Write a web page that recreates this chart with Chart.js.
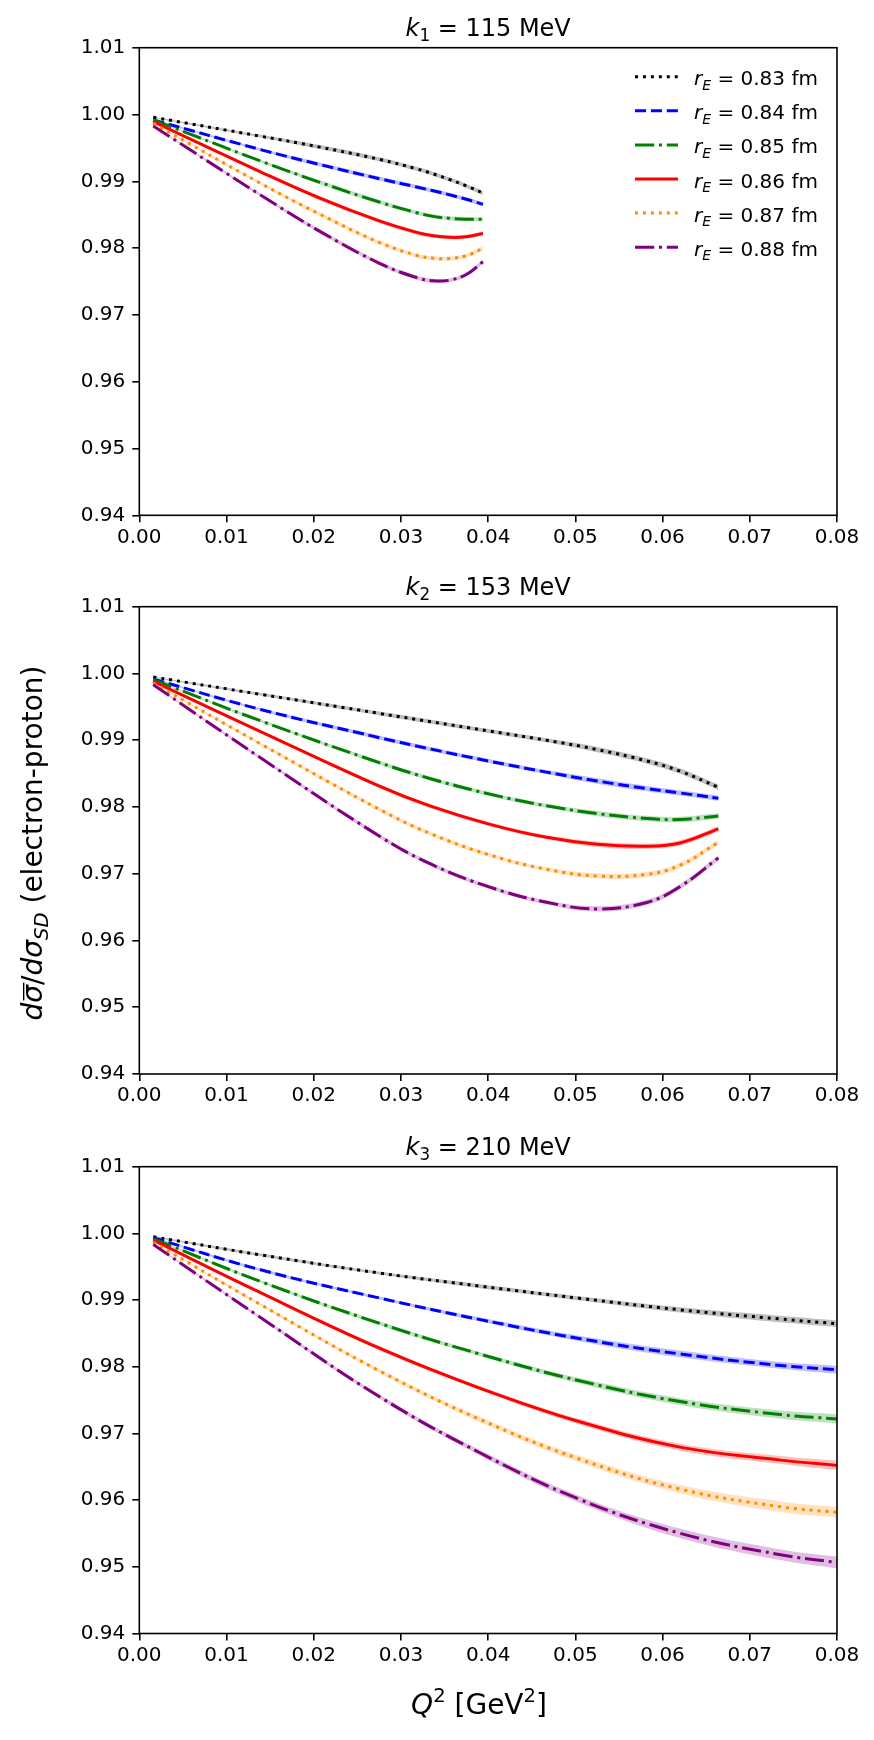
<!DOCTYPE html>
<html>
<head>
<meta charset="utf-8">
<script src="https://cdn.jsdelivr.net/npm/chart.js@4.4.1/dist/chart.umd.min.js"></script>
<style>
  body { margin: 0; background: #fff; }
  #wrap { position: relative; width: 874px; height: 1740px; }
  canvas { position: absolute; left: 0; }
</style>
</head>
<body>
<div id="wrap">
  <canvas id="c1" width="874" height="560" style="top:0"></canvas>
  <canvas id="c2" width="874" height="560" style="top:560px"></canvas>
  <canvas id="c3" width="874" height="620" style="top:1120px"></canvas>
</div>
<script>
"use strict";

// radii and tick labels
const radii = ["0.83", "0.84", "0.85", "0.86", "0.87", "0.88"];
const xTicks = [0, 0.01, 0.02, 0.03, 0.04, 0.05, 0.06, 0.07, 0.08];
const yTicks = [0.94, 0.95, 0.96, 0.97, 0.98, 0.99, 1.00, 1.01];

// k1 = 115 MeV
const k1Q = [0.0016, 0.0139, 0.0207, 0.0276, 0.0318, 0.0337, 0.0356, 0.0375, 0.0394];
const k1r083 = [0.99958, 0.99675, 0.99512, 0.99326, 0.99187, 0.99111, 0.99026, 0.98931, 0.98826];
const k1r084 = [0.99918, 0.99475, 0.99251, 0.99037, 0.98915, 0.98858, 0.98797, 0.98731, 0.98655];
const k1r085 = [0.99920, 0.99304, 0.98985, 0.98686, 0.98530, 0.98475, 0.98445, 0.98432, 0.98431];
const k1r086 = [0.99892, 0.99142, 0.98748, 0.98403, 0.98235, 0.98184, 0.98161, 0.98171, 0.98218];
const k1r087 = [0.99868, 0.98970, 0.98508, 0.98080, 0.97891, 0.97849, 0.97845, 0.97887, 0.97993];
const k1r088 = [0.99828, 0.98795, 0.98251, 0.97768, 0.97558, 0.97510, 0.97520, 0.97605, 0.97795];
const k1Band = [0.0001, 0.0002, 0.0003, 0.0003, 0.0003, 0.0003, 0.0003, 0.0003, 0.0003];

// k2 = 153 MeV
const k2Q = [0.0016, 0.0139, 0.0276, 0.0334, 0.0402, 0.0467, 0.0525, 0.0582, 0.0620, 0.0664];
const k2r083 = [0.99946, 0.99688, 0.99400, 0.99278, 0.99135, 0.98999, 0.98860, 0.98689, 0.98537, 0.98295];
const k2r084 = [0.99916, 0.99461, 0.99036, 0.98868, 0.98684, 0.98522, 0.98389, 0.98275, 0.98210, 0.98130];
const k2r085 = [0.99906, 0.99291, 0.98661, 0.98423, 0.98192, 0.98017, 0.97901, 0.97827, 0.97812, 0.97865];
const k2r086 = [0.99880, 0.99130, 0.98308, 0.98012, 0.97740, 0.97545, 0.97441, 0.97412, 0.97461, 0.97672];
const k2r087 = [0.99856, 0.98946, 0.97960, 0.97600, 0.97280, 0.97066, 0.96967, 0.96990, 0.97127, 0.97470];
const k2r088 = [0.99831, 0.98736, 0.97558, 0.97146, 0.96799, 0.96572, 0.96473, 0.96570, 0.96806, 0.97237];
const k2Band = [0.0001, 0.0002, 0.0003, 0.0003, 0.0003, 0.0003, 0.0004, 0.0004, 0.0004, 0.0004];

// k3 = 210 MeV
const k3Q = [0.0016, 0.0139, 0.0276, 0.0391, 0.0506, 0.0620, 0.0735, 0.0800];
const k3r083 = [0.99949, 0.99678, 0.99404, 0.99209, 0.99025, 0.98854, 0.98716, 0.98645];
const k3r084 = [0.99934, 0.99454, 0.99029, 0.98707, 0.98420, 0.98192, 0.98020, 0.97955];
const k3r085 = [0.99919, 0.99279, 0.98649, 0.98189, 0.97786, 0.97478, 0.97283, 0.97218];
const k3r086 = [0.99898, 0.99111, 0.98275, 0.97677, 0.97171, 0.96795, 0.96600, 0.96520];
const k3r087 = [0.99868, 0.98933, 0.97933, 0.97208, 0.96610, 0.96165, 0.95901, 0.95817];
const k3r088 = [0.99833, 0.98738, 0.97546, 0.96707, 0.96005, 0.95503, 0.95181, 0.95064];
const k3Band = [
    [0.0001, 0.0002, 0.0002, 0.0003, 0.0003, 0.0004, 0.0005, 0.0005],
    [0.0001, 0.0002, 0.0002, 0.0003, 0.0004, 0.0005, 0.0005, 0.0006],
    [0.0001, 0.0002, 0.0003, 0.0003, 0.0004, 0.0005, 0.0006, 0.0007],
    [0.0001, 0.0002, 0.0003, 0.0003, 0.0004, 0.0005, 0.0006, 0.0007],
    [0.0001, 0.0002, 0.0003, 0.0004, 0.0005, 0.0006, 0.0008, 0.0008],
    [0.0001, 0.0002, 0.0003, 0.0004, 0.0005, 0.0007, 0.0008, 0.0009]
];

const FONT = "'DejaVu Sans', sans-serif";
const colours = ["#000000", "#0000ff", "#008000", "#ff0000", "#ff8c00", "#800080"];
const bandColours = ["rgba(0,0,0,0.25)", "rgba(0,0,255,0.25)", "rgba(0,128,0,0.25)",
                     "rgba(255,0,0,0.25)", "rgba(255,140,0,0.25)", "rgba(128,0,128,0.25)"];
const LW = 3;
const dotted = [1 * LW, 1.65 * LW];
const dashed = [3.7 * LW, 1.6 * LW];
const dashDot = [6.4 * LW, 1.6 * LW, 1 * LW, 1.6 * LW];
const dashes = [dotted, dashed, dashDot, [], dotted, dashDot];

// draws math-like text: runs of [text, kind]
function drawRich(ctx, runs, x, y, size, align) {
    const parts = runs.map(([t, k]) => {
        const small = k.includes("sub") || k.includes("sup");
        const fs = small ? size * 0.7 : size;
        const font = (k.startsWith("i") ? "italic " : "") + fs + "px " + FONT;
        ctx.font = font;
        return { t, k, font, w: ctx.measureText(t).width };
    });
    const total = parts.reduce((s, p) => s + p.w, 0);
    let cx = align === "center" ? x - total / 2 : (align === "right" ? x - total : x);
    ctx.textBaseline = "alphabetic";
    ctx.textAlign = "left";
    for (const p of parts) {
        ctx.font = p.font;
        let dy = 0;
        if (p.k.includes("sub")) dy = size * 0.22;
        if (p.k.includes("sup")) dy = -size * 0.42;
        ctx.fillText(p.t, cx, y + dy);
        if (p.k.includes("bar")) {
            ctx.fillRect(cx + size * 0.08, y - size * 0.68, p.w, size * 0.05);
        }
        cx += p.w;
    }
}

function panelPlugin(titleRuns, extra) {
    return {
        id: "panelDecor",
        afterDatasetsDraw(chart) {
            const { ctx, chartArea: a } = chart;
            ctx.save();
            ctx.strokeStyle = "#000";
            ctx.lineWidth = 1.6;
            ctx.strokeRect(a.left, a.top, a.right - a.left, a.bottom - a.top);
            ctx.fillStyle = "#000";
            drawRich(ctx, titleRuns, (a.left + a.right) / 2, a.top - 12, 24, "center");
            if (extra) extra(chart, ctx);
            ctx.restore();
        }
    };
}

// legend (first panel only)
function drawLegend(chart, ctx) {
    const lines = chart.data.datasets.filter(d => d.isLine);
    lines.forEach((d, i) => {
        const y = 76.7 + 34.1 * i;
        ctx.save();
        ctx.strokeStyle = d.borderColor;
        ctx.lineWidth = LW;
        ctx.setLineDash(d.borderDash);
        ctx.beginPath();
        ctx.moveTo(635, y);
        ctx.lineTo(678, y);
        ctx.stroke();
        ctx.restore();
        ctx.fillStyle = "#000";
        drawRich(ctx, [["r", "i"], ["E", "isub"], [" = " + d.radius + " fm", "n"]], 694, y + 8.5, 20, "left");
    });
}

function drawYLabel(chart, ctx) {
    ctx.save();
    ctx.translate(42, 843 - 560);
    ctx.rotate(-Math.PI / 2);
    drawRich(ctx, [["d", "i"], ["σ", "ibar"], ["/", "n"], ["dσ", "i"], ["SD", "isub"], [" (electron-proton)", "n"]], 0, 0, 28, "center");
    ctx.restore();
}

function drawXLabel(chart, ctx) {
    drawRich(ctx, [["Q", "i"], ["2", "sup"], [" [GeV", "n"], ["2", "sup"], ["]", "n"]], 479, 1714 - 1120, 28, "center");
}

function buildPanel(id, q, series, bands, titleRuns, pad, extra) {
    const datasets = [];
    series.forEach((vals, i) => {
        const band = Array.isArray(bands[0]) ? bands[i] : bands;
        datasets.push({
            data: q.map((x, j) => ({ x, y: vals[j] + band[j] })),
            borderWidth: 0, pointRadius: 0, backgroundColor: bandColours[i],
            fill: "+1", order: 10, tension: 0.4
        });
        datasets.push({
            data: q.map((x, j) => ({ x, y: vals[j] - band[j] })),
            borderWidth: 0, pointRadius: 0, backgroundColor: bandColours[i],
            fill: false, order: 10, tension: 0.4
        });
    });
    series.forEach((vals, i) => {
        datasets.push({
            isLine: true,
            radius: radii[i],
            label: "r_E = " + radii[i] + " fm",
            data: q.map((x, j) => ({ x, y: vals[j] })),
            borderColor: colours[i],
            borderWidth: LW,
            borderDash: dashes[i],
            borderCapStyle: "butt",
            pointRadius: 0,
            fill: false,
            order: -i,
            tension: 0.4
        });
    });

    const tickFont = { family: FONT, size: 20 };
    return new Chart(document.getElementById(id), {
        type: "line",
        data: { datasets },
        options: {
            responsive: false,
            animation: false,
            events: [],
            layout: { padding: { left: 0, right: 874 - 837, top: pad.top, bottom: pad.bottom } },
            plugins: { legend: { display: false }, tooltip: { enabled: false } },
            scales: {
                x: {
                    type: "linear", min: 0, max: 0.08,
                    afterFit: s => { s.height = 40; },
                    afterBuildTicks: s => { s.ticks = xTicks.map(v => ({ value: v })); },
                    ticks: { font: tickFont, color: "#000", padding: 3, maxRotation: 0, autoSkip: false,
                             callback: v => v.toFixed(2) },
                    grid: { drawOnChartArea: false, drawTicks: true, tickLength: 7, color: "#000", lineWidth: 1.6 },
                    border: { display: false }
                },
                y: {
                    type: "linear", min: 0.94, max: 1.01,
                    afterFit: s => { s.width = 139.3; },
                    afterBuildTicks: s => { s.ticks = yTicks.map(v => ({ value: v })); },
                    ticks: { font: tickFont, color: "#000", padding: 7, autoSkip: false,
                             callback: v => v.toFixed(2) },
                    grid: { drawOnChartArea: false, drawTicks: true, tickLength: 7, color: "#000", lineWidth: 1.6 },
                    border: { display: false }
                }
            }
        },
        plugins: [panelPlugin(titleRuns, extra)]
    });
}

buildPanel("c1", k1Q, [k1r083, k1r084, k1r085, k1r086, k1r087, k1r088], k1Band,
    [["k", "i"], ["1", "sub"], [" = 115 MeV", "n"]], { top: 47.7, bottom: 4.7 }, drawLegend);

buildPanel("c2", k2Q, [k2r083, k2r084, k2r085, k2r086, k2r087, k2r088], k2Band,
    [["k", "i"], ["2", "sub"], [" = 153 MeV", "n"]], { top: 46.7, bottom: 6 }, drawYLabel);

buildPanel("c3", k3Q, [k3r083, k3r084, k3r085, k3r086, k3r087, k3r088], k3Band,
    [["k", "i"], ["3", "sub"], [" = 210 MeV", "n"]], { top: 46.7, bottom: 66.5 }, drawXLabel);
</script>
</body>
</html>
